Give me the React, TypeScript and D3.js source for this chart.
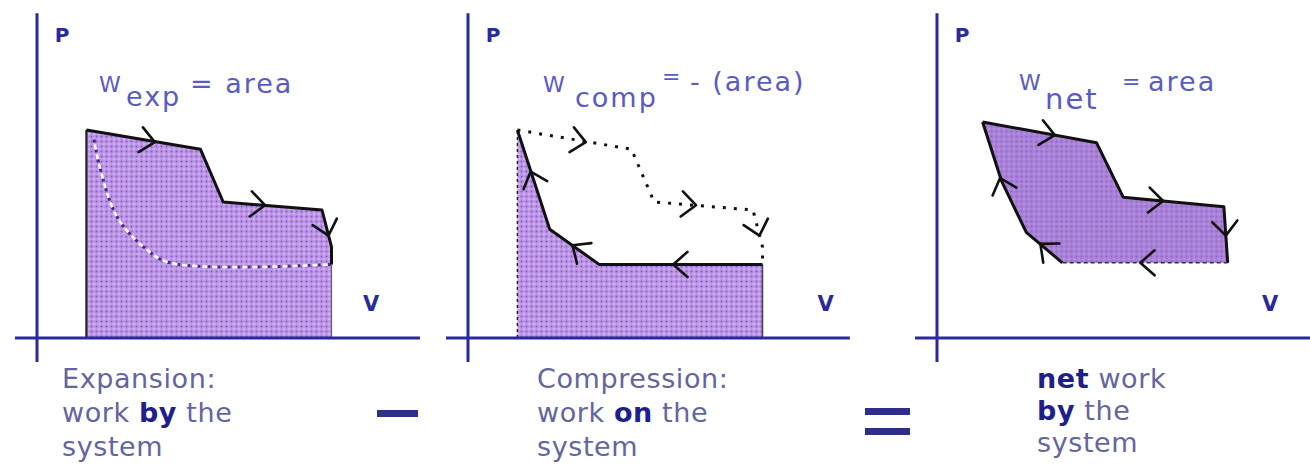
import React, { useEffect, useRef } from "react";
import * as d3 from "d3";

// process paths in (V, P) units
const expansionPath = [[1.3, 6.5], [4.3, 5.9], [4.9, 4.25], [7.5, 4.0], [7.75, 2.85], [7.75, 2.3]];
const compressionPath = [[7.75, 2.3], [3.45, 2.3], [2.15, 3.4], [1.3, 6.5]];
const compressionRef = [[1.5, 6.2], [1.65, 5.35], [2.1, 3.8], [2.8, 2.85], [3.5, 2.35], [7.75, 2.3]];
const netCycle = [[1.2, 6.75], [4.2, 6.1], [4.9, 4.4], [7.55, 4.1], [7.65, 2.35], [3.3, 2.35], [2.35, 3.3], [1.7, 4.9]];

// arrow heads: V, P, heading in degrees (0 = right, 90 = down)
const expansionArrows = [[3.1, 6.12, 10], [6.0, 4.15, 5], [7.67, 3.2, 75]];
const compressionArrows = [[5.4, 2.3, 180], [2.75, 2.9, 215], [1.65, 5.2, 251]];
const netArrows = [[3.1, 6.34, 10], [5.95, 4.28, 4], [7.6, 3.2, 86], [5.35, 2.35, 180], [2.72, 2.94, 220], [1.66, 5.0, 252]];

// captions: lines of [text, bold]
const expCaption = [[["Expansion:", false]], [["work ", false], ["by", true], [" the", false]], [["system", false]]];
const compCaption = [[["Compression:", false]], [["work ", false], ["on", true], [" the", false]], [["system", false]]];
const netCaption = [[["net", true], [" work", false]], [["by", true], [" the", false]], [["system", false]]];

const panels = [
  {
    ox: 37, vMax: 10.08, vLabel: 8.58,
    title: [{ t: "W", x: 99, y: 92, s: 22 }, { t: "exp", x: 126, y: 106, s: 27 }, { t: "= area", x: 190, y: 93, s: 27 }],
    caption: expCaption, cx: 62, lineGap: 34,
  },
  {
    ox: 468, vMax: 10.05, vLabel: 9.2,
    title: [{ t: "W", x: 543, y: 92, s: 22 }, { t: "comp", x: 575, y: 107, s: 27 }, { t: "=", x: 662, y: 84, s: 22 }, { t: "- (area)", x: 690, y: 91, s: 27 }],
    caption: compCaption, cx: 537, lineGap: 34,
  },
  {
    ox: 937, vMax: 9.9, vLabel: 8.55,
    title: [{ t: "W", x: 1019, y: 90, s: 22 }, { t: "net", x: 1045, y: 109, s: 29 }, { t: "=", x: 1122, y: 89, s: 22 }, { t: "area", x: 1148, y: 91, s: 27 }],
    caption: netCaption, cx: 1037, lineGap: 32,
  },
];

const AXIS = "#2a2a9c";
const TITLE = "#5a5ac4";
const TEXT = "#64649e";
const BOLD = "#1f1f8c";
const FONT = "'DejaVu Sans', sans-serif";

const App = () => {
  const ref = useRef(null);

  useEffect(() => {
    const svg = d3.select(ref.current);
    svg.selectAll("*").remove();

    const defs = svg.append("defs");
    const makePattern = (id, base, dark, light) => {
      const p = defs.append("pattern").attr("id", id)
        .attr("patternUnits", "userSpaceOnUse").attr("width", 5).attr("height", 5);
      p.append("rect").attr("width", 5).attr("height", 5).attr("fill", base);
      p.append("circle").attr("cx", 1.5).attr("cy", 1.5).attr("r", 1).attr("fill", dark);
      p.append("circle").attr("cx", 4).attr("cy", 4).attr("r", 0.8).attr("fill", light);
    };
    makePattern("dots", "#bd96e8", "#8a58c2", "#e6d2fa");
    makePattern("dotsNet", "#a981d8", "#8e68c2", "#c4a2e8");

    const y = d3.scaleLinear().domain([0, 10]).range([338, 18]);

    const arrowHead = (x, v, p, deg) => {
      const tx = x(v), ty = y(p);
      const a = (deg * Math.PI) / 180;
      const L = 19, s = 0.72;
      return d3.line()([
        [tx + L * Math.cos(a + Math.PI - s), ty + L * Math.sin(a + Math.PI - s)],
        [tx, ty],
        [tx + L * Math.cos(a + Math.PI + s), ty + L * Math.sin(a + Math.PI + s)],
      ]);
    };

    panels.forEach((cfg, i) => {
      const x = d3.scaleLinear().domain([0, 10]).range([cfg.ox, cfg.ox + 380]);
      const line = d3.line().x(d => x(d[0])).y(d => y(d[1]));
      const area = d3.area().x(d => x(d[0])).y0(y(0)).y1(d => y(d[1]));
      const g = svg.append("g");

      const drawArrows = (list) => {
        g.selectAll(null).data(list).enter().append("path")
          .attr("d", d => arrowHead(x, d[0], d[1], d[2]))
          .attr("fill", "none").attr("stroke", "#111")
          .attr("stroke-width", 2.6).attr("stroke-linecap", "round").attr("stroke-linejoin", "round");
      };

      if (i === 0) {
        g.append("path").attr("d", area(expansionPath)).attr("fill", "url(#dots)");
        g.append("path").attr("d", line([[1.3, 0], [1.3, 6.5]]))
          .attr("stroke", "#222").attr("stroke-width", 2.2);
        g.append("path").attr("d", line([[7.75, 0], [7.75, 2.3]]))
          .attr("stroke", "#6a5a80").attr("stroke-width", 1.2);
        const curve = d3.line().x(d => x(d[0])).y(d => y(d[1])).curve(d3.curveCatmullRom);
        g.append("path").attr("d", curve(compressionRef)).attr("fill", "none")
          .attr("stroke", "#4a2a7e").attr("stroke-width", 3).attr("stroke-dasharray", "3 7");
        g.append("path").attr("d", curve(compressionRef)).attr("fill", "none")
          .attr("stroke", "#fff").attr("stroke-width", 2.6).attr("stroke-dasharray", "5 5")
          .attr("stroke-dashoffset", 5);
        g.append("path").attr("d", line(expansionPath)).attr("fill", "none")
          .attr("stroke", "#111").attr("stroke-width", 3).attr("stroke-linejoin", "round");
        drawArrows(expansionArrows);
      } else if (i === 1) {
        g.append("path").attr("d", area(compressionPath)).attr("fill", "url(#dots)");
        g.append("path").attr("d", line([[1.3, 0], [1.3, 6.5]]))
          .attr("stroke", "#222").attr("stroke-width", 1.5).attr("stroke-dasharray", "3 3");
        g.append("path").attr("d", line([[7.75, 0], [7.75, 2.3]]))
          .attr("stroke", "#444").attr("stroke-width", 1.5);
        g.append("path").attr("d", line(expansionPath)).attr("fill", "none")
          .attr("stroke", "#111").attr("stroke-width", 3).attr("stroke-dasharray", "3 8");
        g.append("path").attr("d", line(compressionPath)).attr("fill", "none")
          .attr("stroke", "#111").attr("stroke-width", 3).attr("stroke-linejoin", "round");
        drawArrows(expansionArrows);
        drawArrows(compressionArrows);
      } else {
        const closed = d3.line().x(d => x(d[0])).y(d => y(d[1])).curve(d3.curveLinearClosed);
        g.append("path").attr("d", closed(netCycle)).attr("fill", "url(#dotsNet)");
        const solid = [netCycle.slice(0, 5), [...netCycle.slice(5), netCycle[0]]];
        solid.forEach(seg => {
          g.append("path").attr("d", line(seg)).attr("fill", "none")
            .attr("stroke", "#111").attr("stroke-width", 3).attr("stroke-linejoin", "round");
        });
        g.append("path").attr("d", line(netCycle.slice(4, 6))).attr("fill", "none")
          .attr("stroke", "#333").attr("stroke-width", 1.6).attr("stroke-dasharray", "4 3");
        drawArrows(netArrows);
      }

      // axes
      g.append("path").attr("d", line([[-0.58, 0], [cfg.vMax, 0]]))
        .attr("stroke", AXIS).attr("stroke-width", 3);
      g.append("path").attr("d", line([[0, -0.75], [0, 10.15]]))
        .attr("stroke", AXIS).attr("stroke-width", 3);
      g.append("text").attr("x", x(0.47)).attr("y", y(9.25)).text("P")
        .attr("font-family", FONT).attr("font-weight", "bold").attr("font-size", 20).attr("fill", AXIS);
      g.append("text").attr("x", x(cfg.vLabel)).attr("y", y(0.84)).text("V")
        .attr("font-family", FONT).attr("font-weight", "bold").attr("font-size", 21).attr("fill", AXIS);

      // title
      cfg.title.forEach(t => {
        g.append("text").attr("x", t.x).attr("y", t.y).text(t.t)
          .attr("font-family", FONT).attr("font-size", t.s).attr("fill", TITLE)
          .attr("letter-spacing", 2);
      });

      // caption
      cfg.caption.forEach((ln, k) => {
        const tx = g.append("text").attr("x", cfg.cx).attr("y", 388 + k * cfg.lineGap)
          .attr("font-family", FONT).attr("font-size", 27).attr("letter-spacing", 0.6)
          .style("white-space", "pre");
        ln.forEach(([s, b]) => {
          tx.append("tspan").text(s)
            .attr("font-weight", b ? "bold" : "normal")
            .attr("fill", b ? BOLD : TEXT);
        });
      });
    });

    // operators between panels
    svg.append("rect").attr("x", 377).attr("y", 410).attr("width", 41).attr("height", 7).attr("fill", "#2d2d8a");
    [408, 428].forEach(yy => {
      svg.append("rect").attr("x", 865).attr("y", yy).attr("width", 45).attr("height", 7).attr("fill", "#2d2d8a");
    });
  }, []);

  return (
    <svg ref={ref} width={1310} height={469}
      style={{ position: "absolute", left: 0, top: 0, background: "#fff" }} />
  );
};

export default App;
